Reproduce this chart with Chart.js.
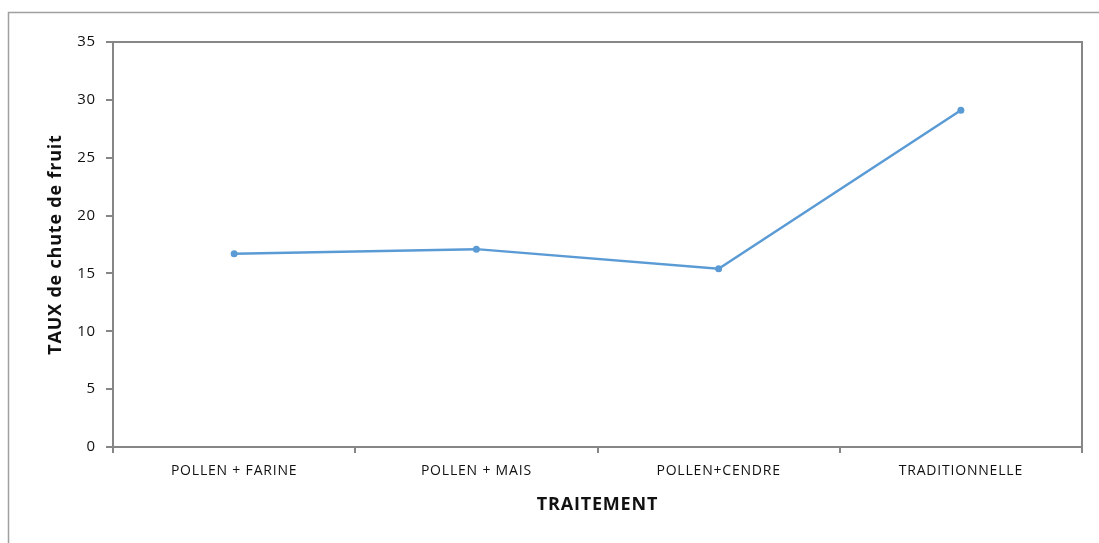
<!DOCTYPE html>
<html>
<head>
  <meta charset="UTF-8">
  <title>TAUX de chute de fruit</title>
  <script src="https://cdn.jsdelivr.net/npm/chart.js"></script>
  <style>
    body { margin: 0; background: #fff; }
    canvas { display: block; }
  </style>
</head>
<body>
  <canvas id="chart" width="1099" height="543"></canvas>
  <script>
    // données
    const traitements = ['POLLEN + FARINE', 'POLLEN + MAIS', 'POLLEN+CENDRE', 'TRADITIONNELLE'];
    const tauxChute = [16.7, 17.1, 15.4, 29.1];
    const yTicks = [0, 5, 10, 15, 20, 25, 30, 35];

    const gris = '#868686';
    const police = '"Open Sans", Lato, sans-serif';

    // cadre du graphique + bords haut/droite de la zone de tracé
    const cadre = {
      id: 'cadre',
      beforeDraw(chart) {
        const ctx = chart.ctx;
        ctx.save();
        ctx.strokeStyle = '#a0a0a0';
        ctx.lineWidth = 1.5;
        ctx.strokeRect(8.5, 12.5, 1200, 700);
        ctx.restore();
        // texte un peu espacé comme dans l'original
        ctx.letterSpacing = '0.8px';
      },
      afterDatasetsDraw(chart) {
        const a = chart.chartArea;
        const ctx = chart.ctx;
        ctx.save();
        ctx.strokeStyle = gris;
        ctx.lineWidth = 2;
        ctx.beginPath();
        ctx.moveTo(a.left, a.top);
        ctx.lineTo(a.right, a.top);
        ctx.lineTo(a.right, a.bottom);
        ctx.stroke();
        ctx.restore();
      }
    };

    new Chart(document.getElementById('chart'), {
      type: 'line',
      data: {
        labels: traitements,
        datasets: [{
          data: tauxChute,
          borderColor: '#5b9bd5',
          backgroundColor: '#5b9bd5',
          borderWidth: 2.5,
          pointRadius: 3.5,
          pointBorderWidth: 0,
          tension: 0
        }]
      },
      options: {
        responsive: false,
        animation: false,
        layout: { padding: { left: 0, top: 42, right: 17, bottom: 0 } },
        plugins: { legend: { display: false }, tooltip: { enabled: false } },
        scales: {
          x: {
            offset: true,
            grid: { offset: true, drawOnChartArea: false, drawTicks: true, tickLength: 6, color: gris, lineWidth: 2 },
            border: { color: gris, width: 2 },
            ticks: { color: '#111', padding: 10, font: { family: police, size: 14 }, maxRotation: 0 },
            title: { display: true, text: 'TRAITEMENT', color: '#111', font: { family: police, size: 18, weight: 'bold' }, padding: { top: 0, bottom: 27 } },
            afterFit(scale) { scale.height = 96; }
          },
          y: {
            min: 0,
            max: 35,
            afterBuildTicks(scale) { scale.ticks = yTicks.map(v => ({ value: v })); },
            grid: { drawOnChartArea: false, drawTicks: true, tickLength: 7, color: gris, lineWidth: 2 },
            border: { color: gris, width: 2 },
            ticks: { color: '#111', padding: 10, font: { family: police, size: 15 } },
            title: { display: true, text: 'TAUX de chute de fruit', color: '#111', font: { family: police, size: 18, weight: 'bold' }, padding: { top: 45, bottom: 0 } },
            afterFit(scale) { scale.width = 113; }
          }
        }
      },
      plugins: [cadre]
    });
  </script>
</body>
</html>
